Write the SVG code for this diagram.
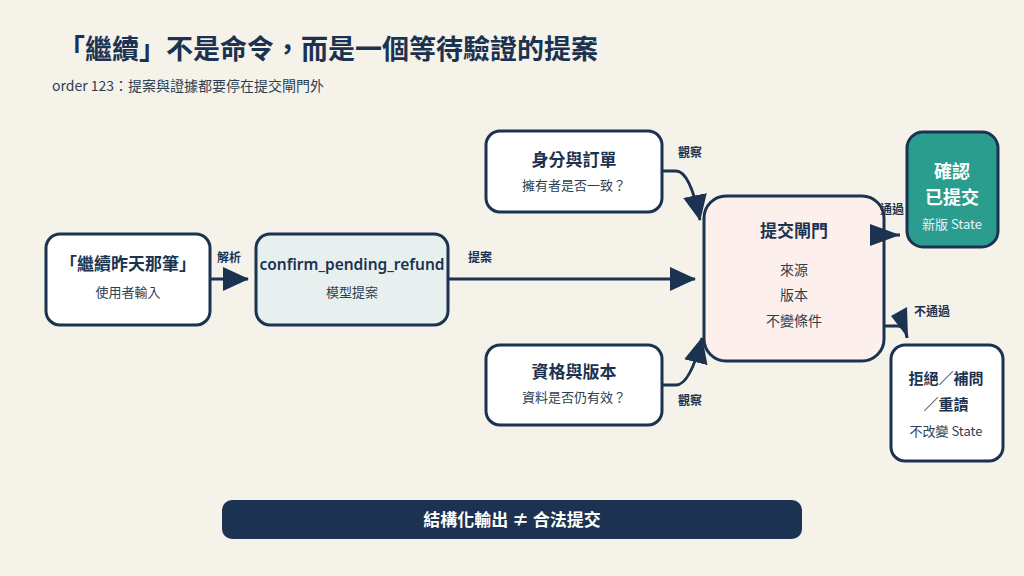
<svg xmlns="http://www.w3.org/2000/svg" width="1024" height="576" viewBox="0 0 1024 576">
<defs>
<marker id="ah" viewBox="0 0 26 24" refX="25" refY="12" markerWidth="26" markerHeight="24" markerUnits="userSpaceOnUse" orient="auto"><path d="M0,0 L26,12 L0,24 Z" fill="#1b3350"/></marker>
<style>
text{font-family:"Noto Sans CJK TC","Noto Sans",sans-serif;fill:#1b3350;text-anchor:middle}
.n{stroke:#1b3350;stroke-width:3}
.t{font-size:17px;font-weight:700}
.s{font-size:13px;fill:#2d3e50}
.l{font-size:12px;font-weight:700}
.c path,.c line{stroke:#1b3350;stroke-width:3;fill:none}
.c path.tri{fill:#1b3350;stroke:none}
</style>
</defs>
<rect width="1024" height="576" fill="#f5f2ea"/>
<text x="58" y="59" style="font-size:27px;font-weight:700;text-anchor:start">「繼續」不是命令，而是一個等待驗證的提案</text>
<text x="52" y="91" style="font-size:14px;text-anchor:start;fill:#2d3e50">order 123：提案與證據都要停在提交閘門外</text>
<g id="nA"><rect class="n" x="46" y="234" width="164" height="91" rx="14" fill="#fff"/><text class="t" x="128" y="270">「繼續昨天那筆」</text><text class="s" x="128" y="297">使用者輸入</text></g>
<g id="nB"><rect class="n" x="256" y="234" width="192" height="91" rx="14" fill="#e8f0ef"/><text class="t" x="352" y="270" style="font-family:'Noto Sans',sans-serif;font-weight:600;font-size:15.5px">confirm_pending_refund</text><text class="s" x="352" y="297">模型提案</text></g>
<g id="nC"><rect class="n" x="486" y="131" width="176" height="81" rx="14" fill="#fff"/><text class="t" x="574" y="166">身分與訂單</text><text class="s" x="574" y="190">擁有者是否一致？</text></g>
<g id="nD"><rect class="n" x="486" y="345" width="176" height="80" rx="14" fill="#fff"/><text class="t" x="574" y="378">資格與版本</text><text class="s" x="574" y="402">資料是否仍有效？</text></g>
<g id="nG"><rect class="n" x="704" y="196" width="180" height="165" rx="22" fill="#fdf0ec"/><text class="t" x="794" y="237">提交閘門</text><text class="s" x="794" y="275" style="font-size:14px">來源</text><text class="s" x="794" y="300" style="font-size:14px">版本</text><text class="s" x="794" y="326" style="font-size:14px">不變條件</text></g>
<g id="nOK"><rect class="n" x="907" y="132" width="91" height="115" rx="16" fill="#2a9d8f"/><text class="t" x="952" y="178" style="fill:#fff;font-size:18px">確認</text><text class="t" x="952" y="204" style="fill:#fff;font-size:18px">已提交</text><text class="s" x="952" y="229" style="fill:#eef">新版 State</text></g>
<g id="nNo"><rect class="n" x="891" y="345" width="112" height="116" rx="14" fill="#fff"/><text class="t" x="946" y="384" style="font-size:15px">拒絕／補問</text><text class="t" x="946" y="410" style="font-size:15px">／重讀</text><text class="s" x="946" y="436">不改變 State</text></g>
<g id="bar"><rect x="222" y="500" width="580" height="39" rx="10" fill="#1b3350"/><text x="512" y="526" style="font-size:17px;font-weight:700;fill:#fff">結構化輸出 ≠ 合法提交</text></g>
<g class="c" id="connectors">
<line x1="210" y1="279" x2="248" y2="279" marker-end="url(#ah)"/>
<line x1="448" y1="279" x2="695" y2="279" marker-end="url(#ah)"/>
<path d="M662,171 H676 Q690,171 700,220" marker-end="url(#ah)"/>
<path d="M662,385 H676 Q690,385 702,338" marker-end="url(#ah)"/>
<line x1="884" y1="235" x2="900" y2="235"/>
<path class="tri" d="M870,224 L900,235 L870,246 Z"/>
<path d="M884,326 H898 Q906,326 907,338"/>
<path class="tri" d="M907,307 L908,338 L891,316 Z"/>
<text class="l" x="229" y="262">解析</text>
<text class="l" x="480" y="262">提案</text>
<text class="l" x="690" y="157">觀察</text>
<text class="l" x="690" y="405">觀察</text>
<text class="l" x="892" y="214">通過</text>
<text class="l" x="932" y="316">不通過</text>
</g>
</svg>
